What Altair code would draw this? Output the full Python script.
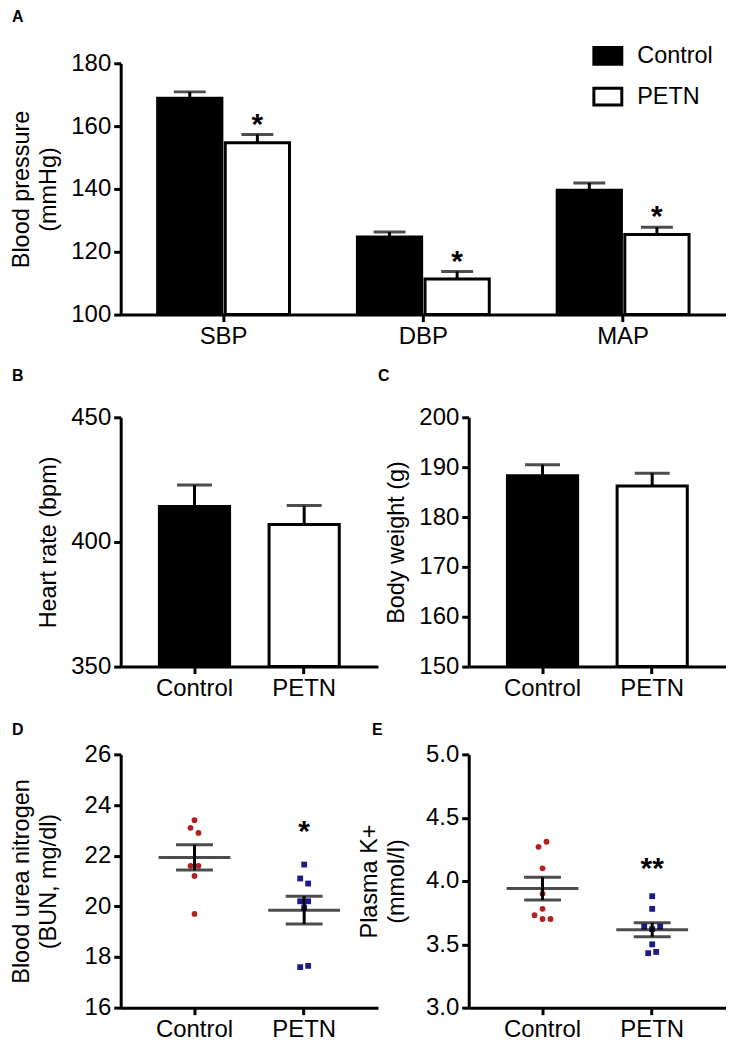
import altair as alt
import pandas as pd

FONT = "Liberation Sans"
RED = "#b3201f"
BLUE = "#1b1b8a"
groups = ["Control", "PETN"]

# ---------------- Panel A: blood pressure (mean, SEM) ----------------
bp_measures = ["SBP", "DBP", "MAP"]
bp_control_mean = [168.9, 124.7, 139.6]
bp_control_sem = [2.0, 1.6, 2.3]
bp_petn_mean = [154.7, 111.3, 125.5]
bp_petn_sem = [2.6, 2.4, 2.3]
bp_petn_sig = ["*", "*", "*"]
bp_ticks = [100, 120, 140, 160, 180]

# ---------------- Panel B: heart rate ----------------
hr_mean = [414.2, 407.0]
hr_sem = [8.6, 7.6]
hr_ticks = [350, 400, 450]

# ---------------- Panel C: body weight ----------------
bw_mean = [188.3, 186.2]
bw_sem = [2.2, 2.6]
bw_ticks = [150, 160, 170, 180, 190, 200]

# ---------------- Panel D: BUN ----------------
bun_control = [23.4, 23.1, 22.9, 21.6, 21.6, 21.2, 19.7]
bun_control_spread = [0, -1, 1, -1, 1, 0, 0]
bun_petn = [21.65, 21.1, 20.9, 20.2, 20.2, 19.95, 17.6, 17.65]
bun_petn_spread = [0, -1, 1, -1, 1, 0, -1, 1]
bun_mean = [21.93, 19.85]
bun_sem = [0.5, 0.55]
bun_sig = ["", "*"]
bun_sig_y = [23.2, 23.2]
bun_ticks = [16, 18, 20, 22, 24, 26]

# ---------------- Panel E: plasma K+ ----------------
k_control = [4.31, 4.27, 4.10, 3.90, 3.78, 3.73, 3.70, 3.70]
k_control_spread = [1, -1, 0, 0, 0, -2, 0, 2]
k_petn = [3.88, 3.78, 3.64, 3.64, 3.62, 3.50, 3.43, 3.44]
k_petn_spread = [0, 0, -2, 2, 0, 0, -1, 1]
k_mean = [3.94, 3.615]
k_sem = [0.09, 0.055]
k_sig = ["", "**"]
k_sig_y = [4.15, 4.15]
k_ticks = [3.0, 3.5, 4.0, 4.5, 5.0]

H_A, H_B, H_D = 252, 250, 254
W_A = 607
W_S = 258
PI_S, PO_S = 0.36, 0.353
STEP_S = W_S / (2 - PI_S + 2 * PO_S)
BAR_W = STEP_S * (1 - PI_S)
HALF_BAND = BAR_W / 2
LABEL_FS = 24
TITLE_FS = 23.5


def y_enc(field, domain, ticks, title, fmt=None):
    ax = dict(values=ticks, minExtent=50, maxExtent=50, labelPadding=3,
              titlePadding=10, title=title)
    if fmt:
        ax["format"] = fmt
    return alt.Y(f"{field}:Q", stack=None,
                 scale=alt.Scale(domain=domain, zero=False, nice=False),
                 axis=alt.Axis(**ax))


def letter(text, dx, offset):
    return alt.TitleParams(text=text, anchor="start", frame="group", dx=dx,
                           offset=offset, fontSize=16, fontWeight="bold",
                           font=FONT, color="black")


x_axis = alt.Axis(title=None, labelAngle=0, labelPadding=3)

# ---------------- Panel A chart ----------------
dfA = pd.DataFrame({
    "measure": bp_measures * 2,
    "group": [groups[0]] * 3 + [groups[1]] * 3,
    "value": bp_control_mean + bp_petn_mean,
    "sem": bp_control_sem + bp_petn_sem,
    "sig": [""] * 3 + bp_petn_sig,
})
dfA["upper"] = dfA["value"] + dfA["sem"]

xA = alt.X("measure:N", sort=bp_measures,
           scale=alt.Scale(type="band", domain=bp_measures, paddingInner=0.34,
                           paddingOuter=0.185),
           axis=x_axis)
xoA = alt.XOffset("group:N", sort=groups,
                  scale=alt.Scale(type="band", domain=groups, paddingInner=0.05,
                                  paddingOuter=0))
titleA = ["Blood pressure", "(mmHg)"]
domA = [100, 180]

barsA = alt.Chart(dfA).mark_bar(stroke="black", strokeWidth=3).encode(
    x=xA, xOffset=xoA,
    y=y_enc("value", domA, bp_ticks, titleA),
    fill=alt.Fill("group:N", scale=alt.Scale(domain=groups, range=["black", "white"]),
                  legend=alt.Legend(title=None, orient="none", legendX=473, legendY=-23,
                                    symbolType="M-1,-0.6H1V0.6H-1Z", symbolSize=784,
                                    symbolStrokeColor="black", symbolStrokeWidth=3,
                                    labelFont=FONT, labelFontSize=TITLE_FS,
                                    labelColor="black", rowPadding=11, labelOffset=14)),
)
errA = alt.Chart(dfA).mark_rule(color="black", strokeWidth=3).encode(
    x=xA, xOffset=xoA, y=y_enc("value", domA, bp_ticks, titleA), y2="upper:Q")
capA = alt.Chart(dfA).mark_tick(color="black", thickness=3, size=32).encode(
    x=xA, xOffset=xoA, y=y_enc("upper", domA, bp_ticks, titleA))
starA = alt.Chart(dfA).mark_text(font=FONT, fontSize=30, fontWeight="bold",
                                 baseline="alphabetic", dy=-1, color="black").encode(
    x=xA, xOffset=xoA, y=y_enc("upper", domA, bp_ticks, titleA), text="sig:N")

chartA = alt.layer(barsA, errA, capA, starA).properties(
    width=W_A, height=H_A, title=letter("A", -109, 15))

# ---------------- bar panels B, C ----------------
x_small_scale = alt.Scale(type="band", domain=groups, paddingInner=PI_S, paddingOuter=PO_S)


def bar_panel(means, sems, domain, ticks, title, let, dx, offset):
    df = pd.DataFrame({"group": groups, "value": means, "sem": sems})
    df["upper"] = df["value"] + df["sem"]
    x = alt.X("group:N", sort=groups, scale=x_small_scale, axis=x_axis)
    bars = alt.Chart(df).mark_bar(stroke="black", strokeWidth=3, size=BAR_W).encode(
        x=x, y=y_enc("value", domain, ticks, title),
        fill=alt.Fill("group:N", scale=alt.Scale(domain=groups, range=["black", "white"]),
                      legend=None))
    err = alt.Chart(df).mark_rule(color="black", strokeWidth=3).encode(
        x=x, y=y_enc("value", domain, ticks, title), y2="upper:Q")
    cap = alt.Chart(df).mark_tick(color="black", thickness=3, size=35).encode(
        x=x, y=y_enc("upper", domain, ticks, title))
    return alt.layer(bars, err, cap).properties(
        width=W_S, height=H_B, title=letter(let, dx, offset))


chartB = bar_panel(hr_mean, hr_sem, [350, 450], hr_ticks, "Heart rate (bpm)", "B", -109, 21)
chartC = bar_panel(bw_mean, bw_sem, [150, 200], bw_ticks, "Body weight (g)", "C", -91, 21)


# ---------------- dot panels D, E ----------------
def dot_panel(ctrl, ctrl_spread, petn, petn_spread, means, sems, sig, sig_y,
              domain, ticks, title, fmt, let, dx, offset):
    pts = pd.DataFrame({
        "group": [groups[0]] * len(ctrl) + [groups[1]] * len(petn),
        "value": ctrl + petn,
        "spread": ctrl_spread + petn_spread,
    })
    summ = pd.DataFrame({"group": groups, "mean": means, "sem": sems,
                         "sig": sig, "sig_y": sig_y})
    summ["lo"] = summ["mean"] - summ["sem"]
    summ["hi"] = summ["mean"] + summ["sem"]
    x = alt.X("group:N", sort=groups, scale=x_small_scale, axis=x_axis)
    points = alt.Chart(pts).mark_point(filled=True, opacity=1, size=34).encode(
        x=x,
        xOffset=alt.XOffset("spread:Q", scale=alt.Scale(domain=[-2, 2],
                                                         range=[HALF_BAND - 8, HALF_BAND + 8])),
        y=y_enc("value", domain, ticks, title, fmt),
        color=alt.Color("group:N", scale=alt.Scale(domain=groups, range=[RED, BLUE]), legend=None),
        shape=alt.Shape("group:N", scale=alt.Scale(domain=groups, range=["circle", "square"]),
                        legend=None),
    )
    mean_line = alt.Chart(summ).mark_tick(color="black", thickness=3, size=72).encode(
        x=x, y=y_enc("mean", domain, ticks, title, fmt))
    sem_rule = alt.Chart(summ).mark_rule(color="black", strokeWidth=3).encode(
        x=x, y=y_enc("lo", domain, ticks, title, fmt), y2="hi:Q")
    cap_hi = alt.Chart(summ).mark_tick(color="black", thickness=3, size=37).encode(
        x=x, y=y_enc("hi", domain, ticks, title, fmt))
    cap_lo = alt.Chart(summ).mark_tick(color="black", thickness=3, size=37).encode(
        x=x, y=y_enc("lo", domain, ticks, title, fmt))
    star = alt.Chart(summ).mark_text(font=FONT, fontSize=30, fontWeight="bold",
                                     baseline="alphabetic", dy=16, color="black").encode(
        x=x, y=y_enc("sig_y", domain, ticks, title, fmt), text="sig:N")
    return alt.layer(points, mean_line, sem_rule, cap_hi, cap_lo, star).properties(
        width=W_S, height=H_D, title=letter(let, dx, offset))


chartD = dot_panel(bun_control, bun_control_spread, bun_petn, bun_petn_spread,
                   bun_mean, bun_sem, bun_sig, bun_sig_y, [16, 26], bun_ticks,
                   ["Blood urea nitrogen", "(BUN, mg/dl)"], None, "D", -109, 4)
chartE = dot_panel(k_control, k_control_spread, k_petn, k_petn_spread,
                   k_mean, k_sem, k_sig, k_sig_y, [3.0, 5.0], k_ticks,
                   ["Plasma K+", "(mmol/l)"], ".1f", "E", -97, 4)

indep = dict(fill="independent", color="independent", shape="independent")

grid = alt.concat(chartB, chartC, chartD, chartE, columns=2,
                  spacing=alt.RowColnumber(row=88, column=91), bounds="flush"
                  ).resolve_scale(**indep).resolve_legend(**indep)

chart = alt.vconcat(chartA, grid, spacing=103, bounds="flush").resolve_scale(
    **indep
).resolve_legend(**indep).properties(
    padding={"left": 2, "top": 0, "right": 0, "bottom": 0}
).configure_axis(
    domainColor="black", domainWidth=3, tickColor="black", tickWidth=3, tickSize=7,
    labelFont=FONT, labelFontSize=LABEL_FS, labelColor="black",
    titleFont=FONT, titleFontSize=TITLE_FS, titleFontWeight="normal", titleColor="black",
    titleLineHeight=27, grid=False,
).configure_view(stroke=None).configure_text(font=FONT)

chart.save("out.html", embed_options={"renderer": "svg", "actions": False})
